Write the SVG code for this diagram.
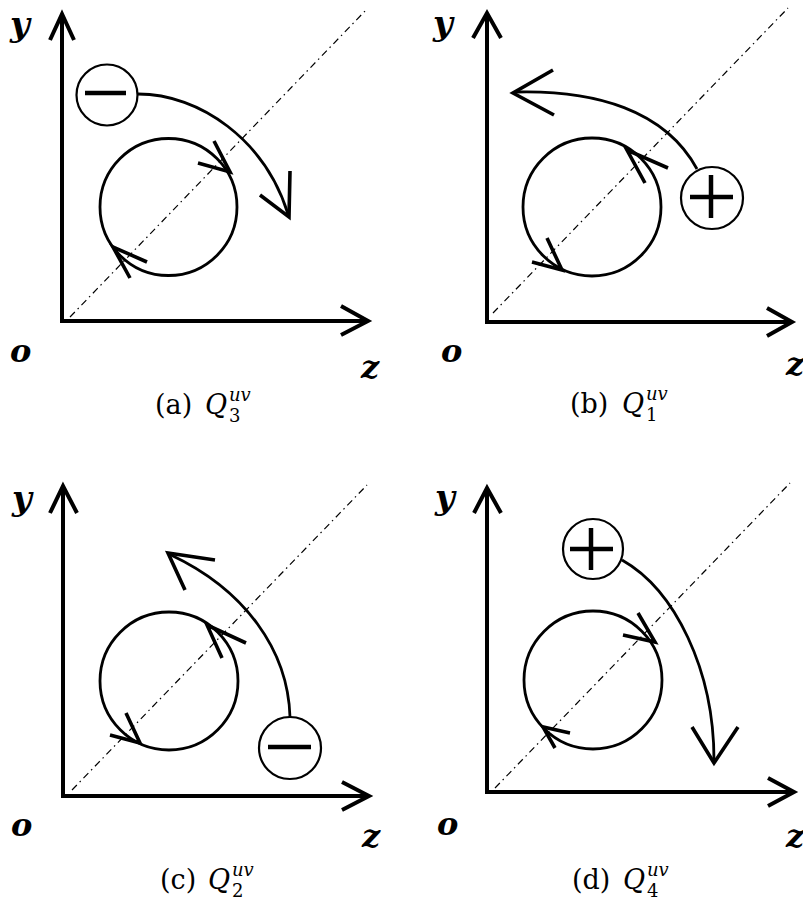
<svg xmlns="http://www.w3.org/2000/svg" width="803" height="907" viewBox="0 0 803 907">
<style>
.ax{stroke:#000;stroke-width:4;fill:none}
.hd{stroke:#000;stroke-width:4;fill:none;stroke-linejoin:miter;stroke-miterlimit:10}
.dg{stroke:#000;stroke-width:1.2;fill:none;stroke-dasharray:7 4 1.5 4}
.lp{stroke:#000;stroke-width:2.8;fill:none}
.cv{stroke:#000;stroke-width:2.8;fill:none}
.ch{stroke:#000;stroke-width:3.6;fill:none;stroke-linejoin:miter;stroke-miterlimit:10}
.sg{stroke:#000;stroke-width:2.2;fill:#fff}
.br{stroke:#000;stroke-width:4.5;fill:none}
.lb{font-family:"DejaVu Serif",serif;font-style:italic;font-weight:bold;font-size:34px;fill:#000}
.lbb{font-family:"DejaVu Serif",serif;font-style:italic;font-weight:bold;font-size:32px;fill:#000}
.cp{font-family:"DejaVu Serif",serif;font-size:27px;fill:#000}
.cq{font-family:"DejaVu Serif",serif;font-style:italic;font-size:27px;fill:#000}
.cs{font-family:"DejaVu Serif",serif;font-style:italic;font-size:18px;fill:#000}
.cn{font-family:"DejaVu Serif",serif;font-size:18px;fill:#000}
</style>
<rect width="803" height="907" fill="#fff"/>

<!-- Panel (a) -->
<g id="panel-a">
  <line class="dg" x1="70" y1="317" x2="366" y2="10"/>
  <line class="ax" x1="62" y1="323" x2="62" y2="15"/>
  <polyline class="hd" points="50,40 62,14 74,40"/>
  <line class="ax" x1="60" y1="321" x2="367" y2="321"/>
  <polyline class="hd" points="341,306 368,321 341,335"/>
  <g id="loop-a">
    <circle class="lp" cx="168.5" cy="207" r="68.5"/>
    <polyline class="ch" points="214,141 230,172 198,163"/>
    <polyline class="ch" points="147,262 113,247 130,278"/>
  </g>
  <text class="lb" x="10" y="36">y</text>
  <text class="lbb" x="10" y="362">o</text>
  <text class="lbb" x="361" y="378">z</text>
  <g id="caption-a">
    <text class="cp" x="155" y="414">(a)</text>
    <text class="cq" x="205" y="414">Q</text>
    <text class="cs" x="229" y="401">uv</text>
    <text class="cn" x="229" y="422">3</text>
  </g>
</g>
<g id="sign-a">
  <circle class="sg" cx="107" cy="95" r="30.5"/>
  <line class="br" x1="85" y1="93" x2="126" y2="93"/>
</g>

<!-- Panel (b) -->
<g id="panel-b">
  <line class="dg" x1="493" y1="313" x2="788" y2="8"/>
  <line class="ax" x1="487" y1="324" x2="487" y2="14"/>
  <polyline class="hd" points="473,38 487,13 501,38"/>
  <line class="ax" x1="485" y1="322" x2="791" y2="322"/>
  <polyline class="hd" points="767,308 792,322 767,336"/>
  <g id="loop-b">
    <circle class="lp" cx="592" cy="207" r="69"/>
    <polyline class="ch" points="668,168 627,150 645,183"/>
    <polyline class="ch" points="532,262 562,270 547,238"/>
  </g>
  <text class="lb" x="433" y="35">y</text>
  <text class="lbb" x="441" y="362">o</text>
  <text class="lbb" x="786" y="375">z</text>
  <g id="caption-b">
    <text class="cp" x="570" y="413">(b)</text>
    <text class="cq" x="622" y="413">Q</text>
    <text class="cs" x="646" y="400">uv</text>
    <text class="cn" x="646" y="421">1</text>
  </g>
</g>
<g id="sign-b">
  <circle class="sg" cx="712" cy="198" r="31"/>
  <line class="br" x1="690" y1="197" x2="733" y2="197"/>
  <line class="br" x1="711" y1="175" x2="711" y2="218"/>
</g>

<!-- Panel (c) -->
<g id="panel-c">
  <line class="dg" x1="72" y1="790" x2="367" y2="485"/>
  <line class="ax" x1="63" y1="797" x2="63" y2="488"/>
  <polyline class="hd" points="50,513 63,486 77,513"/>
  <line class="ax" x1="61" y1="796" x2="368" y2="796"/>
  <polyline class="hd" points="342,782 369,796 342,810"/>
  <g id="loop-c">
    <circle class="lp" cx="169" cy="681" r="69"/>
    <polyline class="ch" points="246,643 207,625 222,658"/>
    <polyline class="ch" points="110,735 140,743 126,713"/>
  </g>
  <text class="lb" x="12" y="510">y</text>
  <text class="lbb" x="11" y="836">o</text>
  <text class="lbb" x="362" y="847">z</text>
  <g id="caption-c">
    <text class="cp" x="160" y="889">(c)</text>
    <text class="cq" x="208" y="889">Q</text>
    <text class="cs" x="232" y="876">uv</text>
    <text class="cn" x="232" y="897">2</text>
  </g>
</g>
<g id="sign-c">
  <circle class="sg" cx="290" cy="748" r="31"/>
  <line class="br" x1="268" y1="747" x2="311" y2="747"/>
</g>

<!-- Panel (d) -->
<g id="panel-d">
  <line class="dg" x1="495" y1="788" x2="790" y2="483"/>
  <line class="ax" x1="487" y1="794" x2="487" y2="490"/>
  <polyline class="hd" points="474,513 487,488 501,513"/>
  <line class="ax" x1="485" y1="792" x2="793" y2="792"/>
  <polyline class="hd" points="768,778 794,792 768,806"/>
  <g id="loop-d">
    <circle class="lp" cx="593" cy="680" r="69"/>
    <polyline class="ch" points="638,613 655,642 623,635"/>
    <polyline class="ch" points="570,733 543,727 555,748"/>
  </g>
  <text class="lb" x="435" y="509">y</text>
  <text class="lbb" x="437" y="835">o</text>
  <text class="lbb" x="786" y="847">z</text>
  <g id="caption-d">
    <text class="cp" x="572" y="889">(d)</text>
    <text class="cq" x="623" y="889">Q</text>
    <text class="cs" x="647" y="876">uv</text>
    <text class="cn" x="647" y="897">4</text>
  </g>
</g>
<g id="sign-d">
  <circle class="sg" cx="593" cy="549" r="30"/>
  <line class="br" x1="570" y1="549" x2="613" y2="549"/>
  <line class="br" x1="591" y1="528" x2="591" y2="570"/>
</g>

<g id="connectors">
  <path class="cv" d="M138,94 C200,94 265,140 288,214"/>
  <polyline class="ch" points="290,171 289,217 260,195"/>
  <path class="cv" d="M697,169 C665,110 595,90 516,92"/>
  <polyline class="ch" points="553,70 513,93 554,115"/>
  <path class="cv" d="M290,717 C288,650 245,590 171,555"/>
  <polyline class="ch" points="215,560 168,553 185,590"/>
  <path class="cv" d="M622,560 C675,590 714,670 714,760"/>
  <polyline class="ch" points="692,727 714,763 738,727"/>
</g>
</svg>
